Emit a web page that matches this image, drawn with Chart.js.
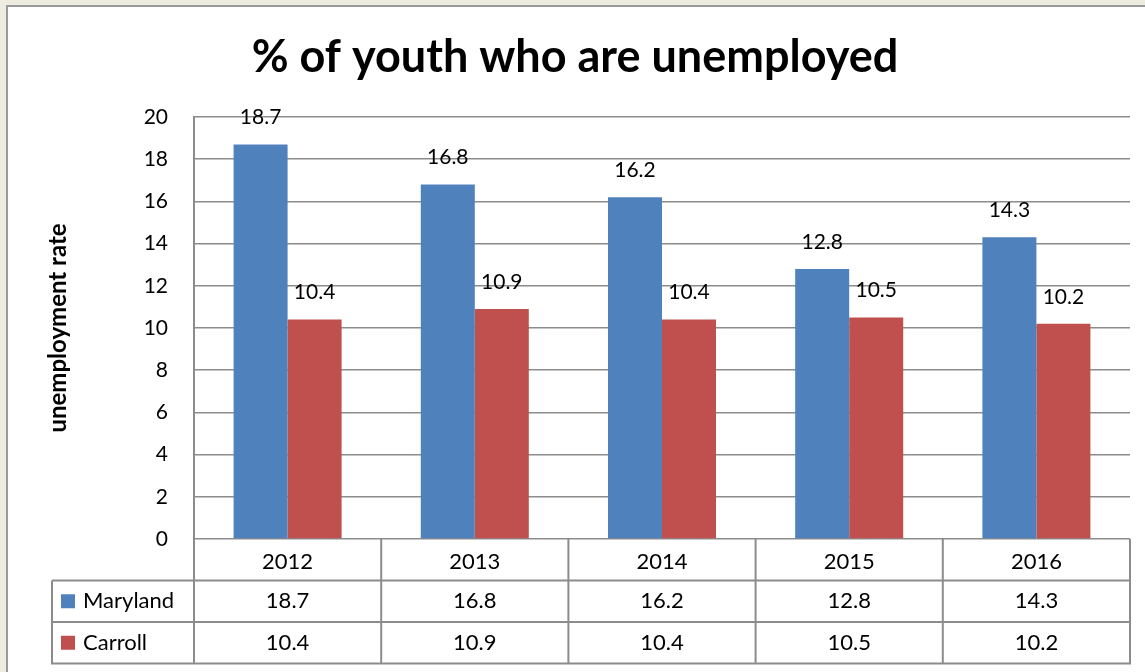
<!DOCTYPE html>
<html>
<head>
<meta charset="utf-8">
<title>% of youth who are unemployed</title>
<script src="https://cdn.jsdelivr.net/npm/chart.js@4.4.1/dist/chart.umd.min.js"></script>
<style>
  html, body { margin: 0; padding: 0; background: #EEECE1; overflow: hidden; }
  #frame {
    position: absolute; left: 6px; top: 5px; width: 1200px; height: 720px;
    background: #ffffff; border-left: 2px solid #9a9a9a; border-top: 2px solid #9a9a9a;
  }
  #chart { position: absolute; left: 0; top: 0; }
</style>
</head>
<body>
<div id="frame"></div>
<canvas id="chart" width="1145" height="672"></canvas>
<script>
// Youth unemployment rate (%), Maryland vs. Carroll County
const years = ['2012', '2013', '2014', '2015', '2016'];
const maryland = [18.7, 16.8, 16.2, 12.8, 14.3];
const carroll = [10.4, 10.9, 10.4, 10.5, 10.2];
const seriesNames = ['Maryland', 'Carroll'];
const seriesColors = ['#4F81BD', '#C0504D'];
const yMin = 0, yMax = 20, yStep = 2;

const FONT = 'Lato, "Open Sans", "DejaVu Sans", sans-serif';
const LINE = '#8c8c8c';

// value labels above each bar
const valueLabels = {
  id: 'valueLabels',
  afterDatasetsDraw(chart) {
    const ctx = chart.ctx;
    ctx.save();
    ctx.font = '21px ' + FONT;
    ctx.fillStyle = '#000';
    ctx.textAlign = 'center';
    ctx.textBaseline = 'middle';
    chart.data.datasets.forEach((ds, di) => {
      chart.getDatasetMeta(di).data.forEach((bar, i) => {
        ctx.fillText(ds.data[i].toFixed(1), bar.x, bar.y - 27);
      });
    });
    ctx.restore();
  }
};

// data table under the category axis
const dataTable = {
  id: 'dataTable',
  afterDraw(chart) {
    const ctx = chart.ctx;
    const xs = chart.scales.x;
    const area = chart.chartArea;
    const rowH = 41.5;
    const headTop = area.bottom;
    const top1 = headTop + rowH;
    const bottom = headTop + rowH * (1 + chart.data.datasets.length);
    const legendLeft = area.left - 142;
    const catW = (area.right - area.left) / chart.data.labels.length;

    ctx.save();
    ctx.strokeStyle = LINE;
    ctx.lineWidth = 2;
    ctx.beginPath();
    // horizontal rules
    for (let r = 0; r <= chart.data.datasets.length; r++) {
      const y = top1 + r * rowH;
      ctx.moveTo(legendLeft, y); ctx.lineTo(area.right, y);
    }
    // legend column left edge
    ctx.moveTo(legendLeft, top1); ctx.lineTo(legendLeft, bottom + 1);
    // category column edges
    for (let i = 0; i <= chart.data.labels.length; i++) {
      const x = area.left + i * catW;
      ctx.moveTo(x, i === 0 ? area.top : headTop); ctx.lineTo(x, bottom + 1);
    }
    ctx.stroke();

    ctx.font = '22px ' + FONT;
    ctx.textBaseline = 'middle';
    chart.data.datasets.forEach((ds, di) => {
      const cy = top1 + rowH * di + rowH / 2;
      ctx.fillStyle = ds.backgroundColor;
      ctx.fillRect(legendLeft + 9, cy - 7, 14, 14);
      ctx.fillStyle = '#000';
      ctx.textAlign = 'left';
      ctx.fillText(ds.label, legendLeft + 31, cy);
      ctx.textAlign = 'center';
      ds.data.forEach((v, i) => {
        ctx.fillText(v.toFixed(1), xs.getPixelForValue(i), cy);
      });
    });
    ctx.restore();
  }
};

new Chart(document.getElementById('chart'), {
  type: 'bar',
  data: {
    labels: years,
    datasets: [
      { label: seriesNames[0], data: maryland, backgroundColor: seriesColors[0] },
      { label: seriesNames[1], data: carroll, backgroundColor: seriesColors[1] }
    ]
  },
  options: {
    responsive: false,
    animation: false,
    devicePixelRatio: 1,
    layout: { padding: { left: 20, right: 15, top: 0, bottom: 0 } },
    datasets: { bar: { categoryPercentage: 0.577, barPercentage: 1.0 } },
    plugins: {
      legend: { display: false },
      tooltip: { enabled: false },
      title: {
        display: true,
        text: '% of youth who are unemployed',
        color: '#000',
        font: { family: FONT, size: 45, weight: 'bold' },
        padding: { top: 30, bottom: 33 }
      }
    },
    scales: {
      x: {
        grid: { display: false },
        border: { display: false },
        ticks: { color: '#000', font: { family: FONT, size: 22 }, padding: 2, maxRotation: 0 },
        afterFit(s) { s.height = 133; }
      },
      y: {
        min: yMin, max: yMax,
        ticks: { stepSize: yStep, color: '#000', font: { family: FONT, size: 21 }, padding: 26 },
        grid: { color: LINE, lineWidth: 1.5, drawTicks: false },
        border: { display: true, color: LINE, width: 2 },
        title: {
          display: true,
          text: 'unemployment rate',
          color: '#000',
          font: { family: FONT, size: 24, weight: 'bold' },
          padding: { top: 24, bottom: 0 }
        },
        afterFit(s) { s.width = 174; }
      }
    }
  },
  plugins: [valueLabels, dataTable]
});
</script>
</body>
</html>
